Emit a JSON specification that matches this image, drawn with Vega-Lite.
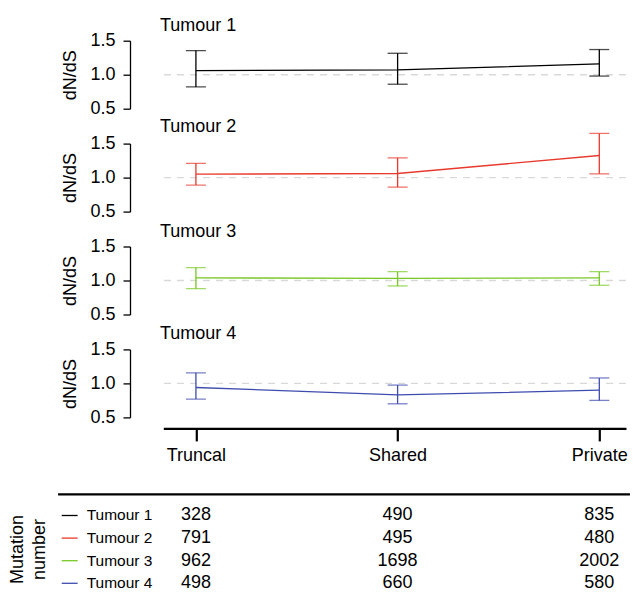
{
  "$schema": "https://vega.github.io/schema/vega-lite/v6.json",
  "autosize": {"type": "none"},
  "padding": {"left": 163.3, "top": 40.7, "right": 469.7, "bottom": 554.3},
  "bounds": "flush",
  "spacing": 34.9,
  "datasets": {
    "dnds": [
      {"tumour": "Tumour 1", "stage": "Truncal", "mean": 1.06, "lower": 0.82, "upper": 1.355},
      {"tumour": "Tumour 1", "stage": "Shared", "mean": 1.07, "lower": 0.86, "upper": 1.315},
      {"tumour": "Tumour 1", "stage": "Private", "mean": 1.16, "lower": 0.98, "upper": 1.37},
      {"tumour": "Tumour 2", "stage": "Truncal", "mean": 1.05, "lower": 0.89, "upper": 1.21},
      {"tumour": "Tumour 2", "stage": "Shared", "mean": 1.06, "lower": 0.86, "upper": 1.29},
      {"tumour": "Tumour 2", "stage": "Private", "mean": 1.325, "lower": 1.055, "upper": 1.65},
      {"tumour": "Tumour 3", "stage": "Truncal", "mean": 1.04, "lower": 0.88, "upper": 1.19},
      {"tumour": "Tumour 3", "stage": "Shared", "mean": 1.03, "lower": 0.92, "upper": 1.13},
      {"tumour": "Tumour 3", "stage": "Private", "mean": 1.04, "lower": 0.93, "upper": 1.13},
      {"tumour": "Tumour 4", "stage": "Truncal", "mean": 0.94, "lower": 0.77, "upper": 1.155},
      {"tumour": "Tumour 4", "stage": "Shared", "mean": 0.83, "lower": 0.70, "upper": 0.975},
      {"tumour": "Tumour 4", "stage": "Private", "mean": 0.90, "lower": 0.75, "upper": 1.08}
    ],
    "counts": [
      {"tumour": "Tumour 1", "stage": "Truncal", "count": 328},
      {"tumour": "Tumour 1", "stage": "Shared", "count": 490},
      {"tumour": "Tumour 1", "stage": "Private", "count": 835},
      {"tumour": "Tumour 2", "stage": "Truncal", "count": 791},
      {"tumour": "Tumour 2", "stage": "Shared", "count": 495},
      {"tumour": "Tumour 2", "stage": "Private", "count": 480},
      {"tumour": "Tumour 3", "stage": "Truncal", "count": 962},
      {"tumour": "Tumour 3", "stage": "Shared", "count": 1698},
      {"tumour": "Tumour 3", "stage": "Private", "count": 2002},
      {"tumour": "Tumour 4", "stage": "Truncal", "count": 498},
      {"tumour": "Tumour 4", "stage": "Shared", "count": 660},
      {"tumour": "Tumour 4", "stage": "Private", "count": 580}
    ],
    "neutral": [{"neutral": 1}]
  },
  "vconcat": [
    {
      "title": {"text": "Tumour 1", "anchor": "start", "frame": "group", "dx": -3.3, "dy": 27, "offset": 10, "baseline": "alphabetic"},
      "width": 462.7, "height": 68,
      "layer": [
        {"data": {"name": "neutral"}, "mark": {"type": "rule", "color": "#d9d9d9", "strokeDash": [7, 6], "strokeWidth": 1.4},
         "encoding": {"y": {"field": "neutral", "type": "quantitative", "title": "dN/dS", "scale": {"domain": [0.5, 1.5], "nice": false, "zero": false}}}},
        {"data": {"name": "dnds"}, "transform": [{"filter": "datum.tumour === 'Tumour 1'"}],
         "encoding": {
           "x": {"field": "stage", "type": "nominal", "sort": ["Truncal", "Shared", "Private"], "scale": {"type": "point", "padding": 0.147, "align": 0.55}, "axis": null},
           "color": {"field": "tumour", "type": "nominal", "scale": {"domain": ["Tumour 1", "Tumour 2", "Tumour 3", "Tumour 4"], "range": ["#000000", "#e8392c", "#77c925", "#3f4caf"]}, "legend": null}
         },
         "layer": [
           {"mark": {"type": "line", "strokeWidth": 1.3}, "encoding": {"y": {"field": "mean", "type": "quantitative", "title": "dN/dS"}}},
           {"mark": {"type": "rule", "strokeWidth": 1.3}, "encoding": {"y": {"field": "lower", "type": "quantitative", "title": "dN/dS"}, "y2": {"field": "upper"}}},
           {"mark": {"type": "tick", "orient": "horizontal", "size": 20, "thickness": 1.3}, "encoding": {"y": {"field": "lower", "type": "quantitative", "title": "dN/dS"}}},
           {"mark": {"type": "tick", "orient": "horizontal", "size": 20, "thickness": 1.3}, "encoding": {"y": {"field": "upper", "type": "quantitative", "title": "dN/dS"}}}
         ]}
      ]
    },
    {
      "title": {"text": "Tumour 2", "anchor": "start", "frame": "group", "dx": -3.3, "dy": 27, "offset": 10, "baseline": "alphabetic"},
      "width": 462.7, "height": 68,
      "layer": [
        {"data": {"name": "neutral"}, "mark": {"type": "rule", "color": "#d9d9d9", "strokeDash": [7, 6], "strokeWidth": 1.4},
         "encoding": {"y": {"field": "neutral", "type": "quantitative", "title": "dN/dS", "scale": {"domain": [0.5, 1.5], "nice": false, "zero": false}}}},
        {"data": {"name": "dnds"}, "transform": [{"filter": "datum.tumour === 'Tumour 2'"}],
         "encoding": {
           "x": {"field": "stage", "type": "nominal", "sort": ["Truncal", "Shared", "Private"], "scale": {"type": "point", "padding": 0.147, "align": 0.55}, "axis": null},
           "color": {"field": "tumour", "type": "nominal", "legend": null}
         },
         "layer": [
           {"mark": {"type": "line", "strokeWidth": 1.3}, "encoding": {"y": {"field": "mean", "type": "quantitative", "title": "dN/dS"}}},
           {"mark": {"type": "rule", "strokeWidth": 1.3}, "encoding": {"y": {"field": "lower", "type": "quantitative", "title": "dN/dS"}, "y2": {"field": "upper"}}},
           {"mark": {"type": "tick", "orient": "horizontal", "size": 20, "thickness": 1.3}, "encoding": {"y": {"field": "lower", "type": "quantitative", "title": "dN/dS"}}},
           {"mark": {"type": "tick", "orient": "horizontal", "size": 20, "thickness": 1.3}, "encoding": {"y": {"field": "upper", "type": "quantitative", "title": "dN/dS"}}}
         ]}
      ]
    },
    {
      "title": {"text": "Tumour 3", "anchor": "start", "frame": "group", "dx": -3.3, "dy": 27, "offset": 10, "baseline": "alphabetic"},
      "width": 462.7, "height": 68,
      "layer": [
        {"data": {"name": "neutral"}, "mark": {"type": "rule", "color": "#d9d9d9", "strokeDash": [7, 6], "strokeWidth": 1.4},
         "encoding": {"y": {"field": "neutral", "type": "quantitative", "title": "dN/dS", "scale": {"domain": [0.5, 1.5], "nice": false, "zero": false}}}},
        {"data": {"name": "dnds"}, "transform": [{"filter": "datum.tumour === 'Tumour 3'"}],
         "encoding": {
           "x": {"field": "stage", "type": "nominal", "sort": ["Truncal", "Shared", "Private"], "scale": {"type": "point", "padding": 0.147, "align": 0.55}, "axis": null},
           "color": {"field": "tumour", "type": "nominal", "legend": null}
         },
         "layer": [
           {"mark": {"type": "line", "strokeWidth": 1.3}, "encoding": {"y": {"field": "mean", "type": "quantitative", "title": "dN/dS"}}},
           {"mark": {"type": "rule", "strokeWidth": 1.3}, "encoding": {"y": {"field": "lower", "type": "quantitative", "title": "dN/dS"}, "y2": {"field": "upper"}}},
           {"mark": {"type": "tick", "orient": "horizontal", "size": 20, "thickness": 1.3}, "encoding": {"y": {"field": "lower", "type": "quantitative", "title": "dN/dS"}}},
           {"mark": {"type": "tick", "orient": "horizontal", "size": 20, "thickness": 1.3}, "encoding": {"y": {"field": "upper", "type": "quantitative", "title": "dN/dS"}}}
         ]}
      ]
    },
    {
      "title": {"text": "Tumour 4", "anchor": "start", "frame": "group", "dx": -3.3, "dy": 27, "offset": 10, "baseline": "alphabetic"},
      "width": 462.7, "height": 68,
      "layer": [
        {"data": {"name": "neutral"}, "mark": {"type": "rule", "color": "#d9d9d9", "strokeDash": [7, 6], "strokeWidth": 1.4},
         "encoding": {"y": {"field": "neutral", "type": "quantitative", "title": "dN/dS", "scale": {"domain": [0.5, 1.5], "nice": false, "zero": false}}}},
        {"data": {"name": "dnds"}, "transform": [{"filter": "datum.tumour === 'Tumour 4'"}],
         "encoding": {
           "x": {"field": "stage", "type": "nominal", "sort": ["Truncal", "Shared", "Private"], "scale": {"type": "point", "padding": 0.147, "align": 0.55},
                 "axis": {"title": null, "labelAngle": 0, "offset": 11, "domainWidth": 2.2, "tickWidth": 2.2, "tickSize": 12.5, "labelPadding": 6, "labelFontSize": 18}},
           "color": {"field": "tumour", "type": "nominal", "legend": null}
         },
         "layer": [
           {"mark": {"type": "line", "strokeWidth": 1.3}, "encoding": {"y": {"field": "mean", "type": "quantitative", "title": "dN/dS"}}},
           {"mark": {"type": "rule", "strokeWidth": 1.3}, "encoding": {"y": {"field": "lower", "type": "quantitative", "title": "dN/dS"}, "y2": {"field": "upper"}}},
           {"mark": {"type": "tick", "orient": "horizontal", "size": 20, "thickness": 1.3}, "encoding": {"y": {"field": "lower", "type": "quantitative", "title": "dN/dS"}}},
           {"mark": {"type": "tick", "orient": "horizontal", "size": 20, "thickness": 1.3}, "encoding": {"y": {"field": "upper", "type": "quantitative", "title": "dN/dS"}}}
         ]}
      ]
    },
    {
      "width": 462.7, "height": 142.3,
      "data": {"name": "counts"},
      "resolve": {"scale": {"x": "independent"}},
      "layer": [
        {"mark": {"type": "text", "fontSize": 18, "color": "black"},
         "encoding": {
           "x": {"field": "stage", "type": "nominal", "sort": ["Truncal", "Shared", "Private"], "scale": {"type": "point", "padding": 0.147, "align": 0.55}, "axis": null},
           "y": {"field": "tumour", "type": "nominal", "scale": {"type": "band", "paddingInner": 0, "paddingOuter": 0, "range": [51.9, 142.3]},
                 "axis": {"labels": false, "ticks": false, "domain": false, "title": ["Mutation", "number"], "titleFontSize": 18, "titleLineHeight": 21.7, "titleX": -136.3, "titleY": 96.8, "titleAlign": "center"}},
           "text": {"field": "count", "type": "quantitative", "format": "d"}
         }},
        {"transform": [{"filter": "datum.stage === 'Truncal'"}],
         "mark": {"type": "rule", "strokeWidth": 1.3},
         "encoding": {
           "x": {"datum": 0.334, "type": "quantitative", "scale": {"domain": [0.8378, 3.1324], "nice": false, "zero": false}, "axis": null},
           "x2": {"datum": 0.413},
           "y": {"field": "tumour", "type": "nominal"},
           "color": {"field": "tumour", "type": "nominal", "legend": null}
         }},
        {"transform": [{"filter": "datum.stage === 'Truncal'"}],
         "mark": {"type": "text", "fontSize": 15.5, "align": "left", "color": "black"},
         "encoding": {
           "x": {"datum": 0.458, "type": "quantitative", "scale": {"domain": [0.8378, 3.1324], "nice": false, "zero": false}, "axis": null},
           "y": {"field": "tumour", "type": "nominal"},
           "text": {"field": "tumour", "type": "nominal"}
         }},
        {"transform": [{"filter": "datum.stage === 'Truncal' && datum.tumour === 'Tumour 1'"}],
         "mark": {"type": "rule", "strokeWidth": 2.2, "color": "black", "yOffset": -21.2},
         "encoding": {
           "x": {"datum": 0.316, "type": "quantitative", "scale": {"domain": [0.8378, 3.1324], "nice": false, "zero": false}, "axis": null},
           "x2": {"datum": 3.152},
           "y": {"field": "tumour", "type": "nominal"}
         }}
      ]
    }
  ],
  "config": {
    "view": {"stroke": null},
    "font": "Liberation Sans",
    "title": {"fontSize": 18, "fontWeight": "normal", "color": "black"},
    "text": {"font": "Liberation Sans"},
    "axis": {"grid": false, "domainColor": "black", "tickColor": "black", "labelColor": "black", "titleColor": "black", "labelFontSize": 18, "titleFontSize": 18, "titleFontWeight": "normal", "domainWidth": 1.3, "tickWidth": 1.3, "labelFont": "Liberation Sans", "titleFont": "Liberation Sans"},
    "axisQuantitative": {"values": [0.5, 1, 1.5], "format": ".1f", "offset": 33.3, "tickSize": 7, "labelPadding": 8, "titlePadding": 10, "labelOverlap": false, "labelFlush": false}
  }
}
